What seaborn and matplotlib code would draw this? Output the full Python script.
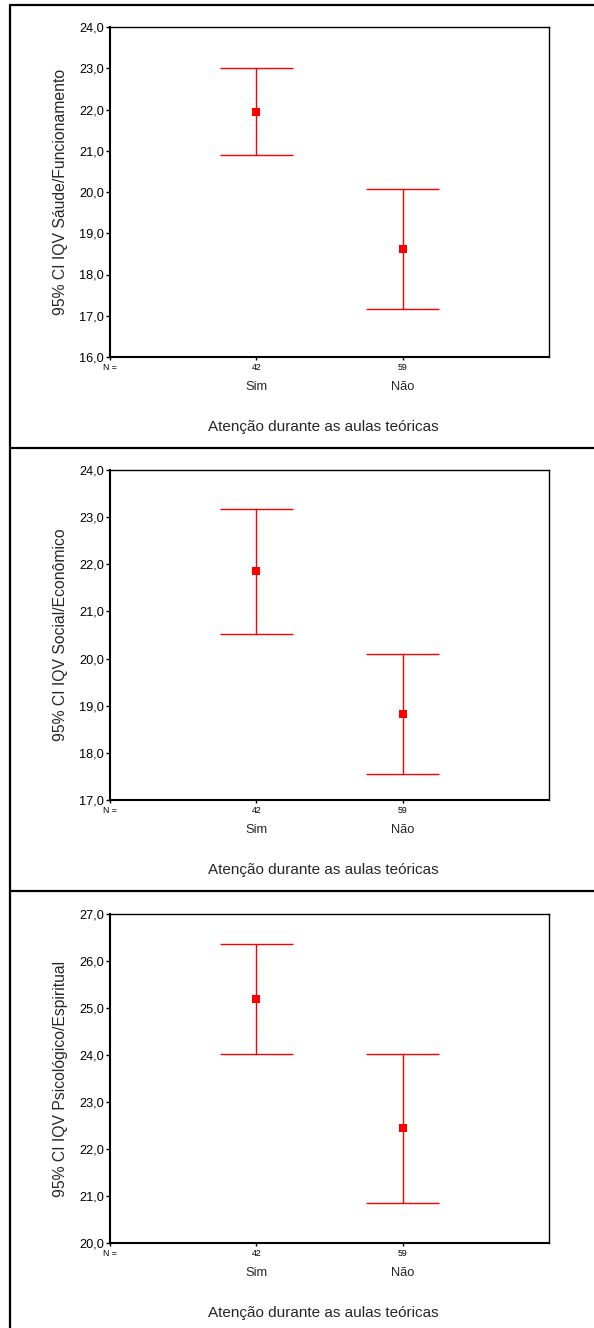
import matplotlib.pyplot as plt
import matplotlib.transforms as mtransforms
from matplotlib.lines import Line2D
from matplotlib.ticker import FuncFormatter, MultipleLocator
import numpy as np
import pandas as pd
import seaborn as sns

# data (95% CI of IQV scores per group)
groups = ['Sim', 'Não']
n_counts = [42, 59]

saude_mean = [21.93, 18.61]
saude_low = [20.90, 17.16]
saude_high = [23.00, 20.07]

social_mean = [21.86, 18.83]
social_low = [20.53, 17.56]
social_high = [23.18, 20.10]

psico_mean = [25.20, 22.44]
psico_low = [24.03, 20.85]
psico_high = [26.36, 24.03]

x_title = 'Atenção durante as aulas teóricas'

panels = [
    ('95% CI IQV Sáude/Funcionamento', saude_mean, saude_low, saude_high, (16, 24)),
    ('95% CI IQV Social/Econômico', social_mean, social_low, social_high, (17, 24)),
    ('95% CI IQV Psicológico/Espiritual', psico_mean, psico_low, psico_high, (20, 27)),
]

sns.set_style('white')
plt.rcParams['font.family'] = ['Liberation Sans', 'DejaVu Sans']

W, H = 594, 1328
fig = plt.figure(figsize=(W / 100, H / 100), dpi=100)

# axes boxes in pixels (top, bottom) for each panel
ax_left, ax_right = 110, 549
ax_rows = [(27, 357), (470, 800), (914, 1243)]


def comma_fmt(v, pos):
    return f'{v:.1f}'.replace('.', ',')


def draw_panel(ax, ylabel, means, lows, highs, ylim):
    pos = np.arange(1, len(groups) + 1)
    df = pd.DataFrame({'pos': pos, 'mean': means, 'low': lows, 'high': highs})

    ax.vlines(df['pos'], df['low'], df['high'], color='#ff0000', lw=1.0, zorder=2)
    ax.hlines(df['low'], df['pos'] - 0.25, df['pos'] + 0.25, color='#ff0000', lw=1.0, zorder=2)
    ax.hlines(df['high'], df['pos'] - 0.25, df['pos'] + 0.25, color='#ff0000', lw=1.0, zorder=2)
    sns.scatterplot(data=df, x='pos', y='mean', marker='s', s=28, color='#ff0000',
                    edgecolor='#ff0000', linewidth=0, ax=ax, zorder=3, legend=False)

    ax.set_xlim(0, len(groups) + 1)
    ax.set_ylim(*ylim)
    ax.yaxis.set_major_locator(MultipleLocator(1))
    ax.yaxis.set_major_formatter(FuncFormatter(comma_fmt))
    ax.set_xticks([0] + list(pos))
    ax.set_xticklabels(['N ='] + [str(n) for n in n_counts])
    ax.tick_params(axis='y', direction='out', length=3, width=1, pad=1.5,
                   labelsize=9.2, left=True, colors='black')
    ax.tick_params(axis='x', direction='out', length=2.5, width=1, pad=2,
                   labelsize=6.3, bottom=True, colors='black')
    ax.set_xlabel('')
    ax.set_ylabel('')

    for side in ['left', 'bottom']:
        ax.spines[side].set_linewidth(1.5)
        ax.spines[side].set_color('black')
    for side in ['top', 'right']:
        ax.spines[side].set_linewidth(1.0)
        ax.spines[side].set_color('black')

    trans = mtransforms.blended_transform_factory(ax.transData, ax.transAxes)
    for p, g in zip(pos, groups):
        ax.text(p, -30 / 330, g, transform=trans, ha='center', va='center', fontsize=9.3)

    ax.text(0.5 - 6 / 439, -70 / 330, x_title, transform=ax.transAxes,
            ha='center', va='center', fontsize=11)
    ax.text(-50 / 439, 0.5, ylabel, transform=ax.transAxes, rotation=90,
            ha='center', va='center', fontsize=11.3)


for (ylabel, means, lows, highs, ylim), (top, bottom) in zip(panels, ax_rows):
    ax = fig.add_axes([ax_left / W, 1 - bottom / H, (ax_right - ax_left) / W, (bottom - top) / H])
    draw_panel(ax, ylabel, means, lows, highs, ylim)

# outer frame and panel separators
frame_lw = 1.6
fig.add_artist(Line2D([10 / W, 1], [1 - 5 / H, 1 - 5 / H], color='black', lw=frame_lw))
fig.add_artist(Line2D([10 / W, 10 / W], [0, 1 - 5 / H], color='black', lw=frame_lw))
for y in [448, 891]:
    fig.add_artist(Line2D([10 / W, 1], [1 - y / H, 1 - y / H], color='black', lw=frame_lw))

fig.savefig('out.png', dpi=100)
